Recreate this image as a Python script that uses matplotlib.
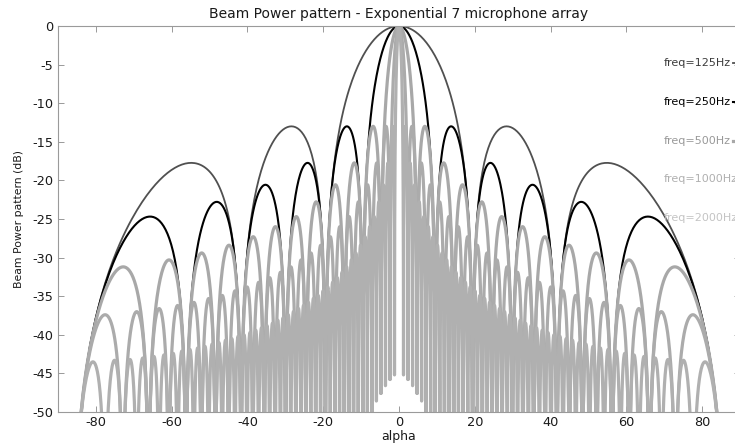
import numpy as np
import matplotlib.pyplot as plt

# frequencies of the five patterns (Hz)
freqs = [125, 250, 500, 1000, 2000]

# null angles (deg, positive side; the pattern is symmetric)
nulls_125 = [19.42, 41.68, 85.95]
nulls_250 = [9.57, 19.42, 29.92, 41.68, 56.23, 85.95]
nulls_500 = [4.77, 9.57, 14.44, 19.42, 24.56, 29.92, 35.58, 41.68, 48.43,
             56.23, 66.12, 85.95]
nulls_1000 = [2.38, 4.77, 7.16, 9.57, 11.99, 14.44, 16.91, 19.42, 21.97,
              24.56, 27.20, 29.92, 32.71, 35.58, 38.57, 41.68, 44.96, 48.43,
              52.16, 56.23, 60.79, 66.12, 72.92, 85.95]
nulls_2000 = [1.19, 2.38, 3.57, 4.77, 5.96, 7.16, 8.36, 9.57, 10.78, 11.99,
              13.21, 14.44, 15.67, 16.91, 18.16, 19.42, 20.69, 21.97, 23.26,
              24.56, 25.87, 27.20, 28.55, 29.92, 31.30, 32.71, 34.13, 35.58,
              37.06, 38.57, 40.11, 41.68, 43.30, 44.96, 46.66, 48.43, 50.26,
              52.16, 54.15, 56.23, 58.44, 60.79, 63.33, 66.12, 69.24, 72.92,
              77.62, 85.95]

# peak level (dB) of the 1st, 2nd, ... sidelobe
sidelobe_db = [-13.2, -17.8, -20.6, -22.8, -24.7, -26.0, -27.3, -28.4, -29.4,
               -30.3, -31.2, -31.9, -32.6, -33.2, -33.8, -34.3, -34.9, -35.3,
               -35.8, -36.2, -36.6, -37.0, -37.4, -37.8, -38.1, -38.5, -38.8,
               -39.1, -39.4, -39.7, -40.0, -40.2, -40.5, -40.7, -41.0, -41.2,
               -41.5, -41.7, -41.9, -42.1, -42.4, -42.6, -42.8, -43.0, -43.2,
               -43.3, -43.5]

# near broadside the sampled nulls stay shallow (white patch at the bottom)
floor_alpha = [0, 1.2, 2.4, 3.6, 4.8, 6.0, 7.2]
floor_db = [-44.8, -45.2, -45.8, -46.6, -47.6, -48.6, -50.5]

nulls = {125: nulls_125, 250: nulls_250, 500: nulls_500,
         1000: nulls_1000, 2000: nulls_2000}

line_style = {125: ('#505050', 1.3), 250: ('#000000', 1.5),
              500: ('#a8a8a8', 2.3), 1000: ('#ababab', 2.3),
              2000: ('#b0b0b0', 2.3)}
label_color = ['#3c3c3c', '#000000', '#999999', '#b0b0b0', '#c4c4c4']


def pattern(null_deg, levels, n=80):
    """Join the lobes between consecutive nulls into one curve."""
    s_null = np.sin(np.radians(null_deg))
    # main lobe from 0 to the first null
    s = np.linspace(0, s_null[0], n)
    y = 20 * np.log10(np.abs(np.sinc(s / s_null[0])) + 1e-6)
    xs, ys = [s], [y]
    t = np.linspace(0, 1, n)
    for k, (a, b, p) in enumerate(zip(s_null[:-1], s_null[1:], levels), 1):
        # lobe k leans slightly towards the main lobe
        shape = np.sin(np.pi * t) * (k + 0.5) / (k + t)
        xs.append(a + (b - a) * t)
        ys.append(p + 20 * np.log10(shape + 1e-6))
    s = np.concatenate(xs)
    a = np.degrees(np.arcsin(np.clip(s, 0, 1)))
    y = np.concatenate(ys)
    y = np.maximum(y, np.interp(a, floor_alpha, floor_db, right=-70))
    return np.concatenate([-a[::-1], a]), np.concatenate([y[::-1], y])


plt.rcParams['axes.unicode_minus'] = False
plt.rcParams['font.family'] = 'DejaVu Sans'

fig = plt.figure(figsize=(7.35, 4.43), dpi=100)
ax = fig.add_axes([58 / 735, 31 / 443, 682 / 735, 386 / 443])

for f in freqs:
    alpha, db = pattern(nulls[f], sidelobe_db)
    col, lw = line_style[f]
    ax.plot(alpha, db, color=col, lw=lw)

ax.set_xlim(-90, 90)
ax.set_ylim(-50, 0)
ax.set_xticks(np.arange(-80, 81, 20))
ax.set_yticks(np.arange(-50, 1, 5))
ax.tick_params(direction='in', length=4.5, width=0.7, color='#999999',
               labelsize=9.3, labelcolor='#1a1a1a', top=True, right=True, pad=3.2)
for sp in ax.spines.values():
    sp.set_color('#9a9a9a')
    sp.set_linewidth(0.8)

ax.set_title('Beam Power pattern - Exponential 7 microphone array',
             fontsize=10, color='#1a1a1a', pad=6)
ax.set_xlabel('alpha', fontsize=9, color='#1a1a1a')
ax.set_ylabel('Beam Power pattern (dB)', fontsize=7.8, color='#1a1a1a')
ax.xaxis.set_label_coords(0.5, -0.047)
ax.yaxis.set_label_coords(-0.05, 0.5)

# legend: coloured labels followed by a short line sample
fig.canvas.draw()
renderer = fig.canvas.get_renderer()
for i, f in enumerate(freqs):
    y = 0.904 - i * 0.1004
    txt = ax.text(0.8886, y, 'freq=%dHz' % f, transform=ax.transAxes,
                  fontsize=8, color=label_color[i], va='center', ha='left')
    x1 = ax.transAxes.inverted().transform(
        (txt.get_window_extent(renderer).x1 + 2, 0))[0]
    col, lw = line_style[f]
    ax.plot([x1, x1 + 0.06], [y, y], color=col, lw=lw, transform=ax.transAxes,
            clip_on=False)

fig.savefig('out.png', dpi=100)
